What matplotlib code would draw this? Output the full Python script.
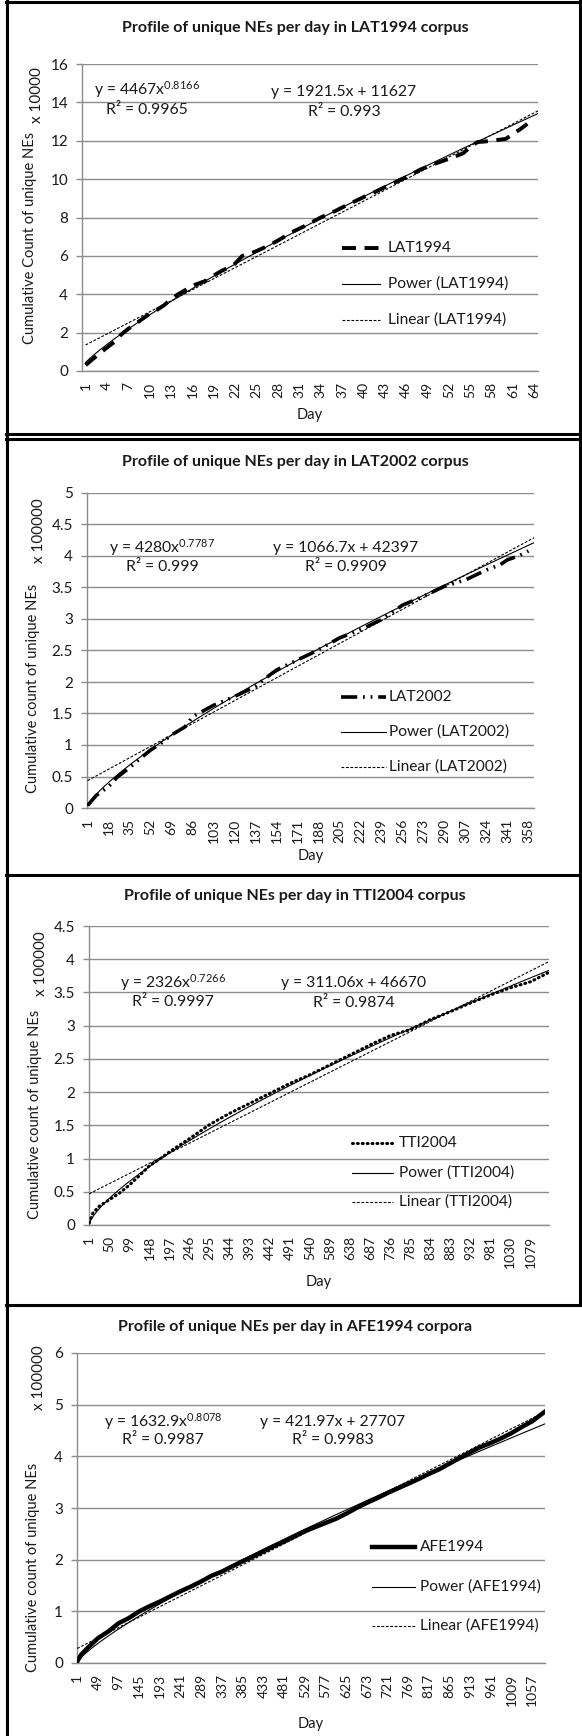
import matplotlib.pyplot as plt
import numpy as np
from matplotlib.lines import Line2D
from matplotlib.ticker import FuncFormatter

plt.rcParams['font.family'] = ['Lato', 'DejaVu Sans']
plt.rcParams['mathtext.fontset'] = 'custom'
plt.rcParams['mathtext.rm'] = 'Lato'
plt.rcParams['mathtext.default'] = 'regular'

W, H = 582, 1736

# ---- data ----
# LAT1994, cumulative unique NEs per day, x 10000
lat94_days = list(range(1, 64))
lat94_vals = [0.30, 0.62, 0.92, 1.22, 1.50, 1.90, 2.20, 2.45, 2.72, 2.98,
              3.18, 3.42, 3.75, 4.00, 4.22, 4.45, 4.58, 4.72, 4.98, 5.20,
              5.38, 5.60, 6.00, 6.10, 6.25, 6.42, 6.60, 6.80, 7.02, 7.24,
              7.42, 7.60, 7.80, 8.00, 8.17, 8.33, 8.52, 8.70, 8.88, 9.06,
              9.22, 9.40, 9.58, 9.76, 9.93, 10.10, 10.30, 10.50, 10.65, 10.80,
              10.93, 11.06, 11.20, 11.35, 11.67, 11.93, 11.96, 12.00, 12.05, 12.10,
              12.36, 12.60, 12.88]

# LAT2002, x 100000
lat02_days = [1, 8, 18, 25, 35, 42, 52, 60, 69, 80, 86, 103, 120, 137, 145, 154,
              171, 188, 205, 222, 239, 256, 273, 290, 307, 324, 335, 341, 350, 358]
lat02_vals = [0.04, 0.20, 0.34, 0.49, 0.64, 0.76, 0.92, 1.02, 1.16, 1.29, 1.45,
              1.63, 1.77, 1.93, 2.06, 2.19, 2.35, 2.51, 2.70, 2.83, 2.99, 3.22,
              3.36, 3.52, 3.62, 3.78, 3.86, 3.94, 4.00, 4.08]

# TTI2004, x 100000
tti04_days = [1, 10, 25, 50, 75, 99, 125, 148, 175, 197, 246, 295, 344, 393, 442,
              491, 540, 589, 638, 687, 736, 785, 834, 883, 932, 981, 1030, 1079, 1124]
tti04_vals = [0.03, 0.18, 0.28, 0.38, 0.48, 0.60, 0.75, 0.89, 1.00, 1.10, 1.30,
              1.51, 1.68, 1.83, 1.98, 2.13, 2.26, 2.41, 2.56, 2.71, 2.85, 2.94,
              3.09, 3.21, 3.34, 3.46, 3.57, 3.66, 3.80]

# AFE1994, x 100000
afe94_days = [1, 10, 25, 49, 73, 97, 121, 145, 169, 193, 217, 241, 265, 289, 313,
              337, 361, 385, 409, 433, 457, 481, 505, 529, 553, 577, 601, 625, 649,
              673, 697, 721, 745, 769, 793, 817, 841, 865, 889, 913, 937, 961, 985,
              1009, 1033, 1057, 1087]
afe94_vals = [0.03, 0.16, 0.29, 0.48, 0.61, 0.77, 0.87, 1.00, 1.10, 1.19, 1.29,
              1.39, 1.48, 1.58, 1.69, 1.77, 1.87, 1.97, 2.06, 2.16, 2.26, 2.35,
              2.45, 2.55, 2.63, 2.71, 2.79, 2.89, 3.00, 3.10, 3.19, 3.29, 3.38,
              3.47, 3.56, 3.66, 3.75, 3.86, 3.97, 4.08, 4.18, 4.26, 4.35, 4.45,
              4.57, 4.68, 4.87]

# trendline coefficients as printed on the charts
power_a = [4467, 4280, 2326, 1632.9]
power_b = [0.8166, 0.7787, 0.7266, 0.8078]
power_r2 = ['0.9965', '0.999', '0.9997', '0.9987']
lin_m = [1921.5, 1066.7, 311.06, 421.97]
lin_c = [11627, 42397, 46670, 27707]
lin_r2 = ['0.993', '0.9909', '0.9874', '0.9983']

names = ['LAT1994', 'LAT2002', 'TTI2004', 'AFE1994']
titles = ['Profile of unique NEs per day in LAT1994 corpus',
          'Profile of unique NEs per day in LAT2002 corpus',
          'Profile of unique NEs per day in TTI2004 corpus',
          'Profile of unique NEs per day in AFE1994 corpora']
ylabels = ['Cumulative Count of unique NEs'] + ['Cumulative count of unique NEs'] * 3
scales = [10000, 100000, 100000, 100000]
n_days = [64, 362, 1124, 1086]
tick_steps = [3, 17, 49, 48]
ymaxes = [16, 5, 4.5, 6]
ysteps = [2, 0.5, 0.5, 1]

series = [(lat94_days, lat94_vals), (lat02_days, lat02_vals),
          (tti04_days, tti04_vals), (afe94_days, afe94_vals)]

# line styles of the data series
styles = [dict(lw=2.8, ls=(0, (3.6, 2.2)), dash_capstyle='butt'),
          dict(lw=2.6, ls=(0, (4.5, 1.6, 0.5, 1.6, 0.5, 1.6)), dash_capstyle='butt'),
          dict(lw=2.2, ls=(0, (0.3, 1.3)), dash_capstyle='round'),
          dict(lw=3.2, ls='-')]

# layout in pixels: axes (left, top, right, bottom), text anchors
axes_px = [(82, 64, 538, 371), (87, 493, 534, 808), (89, 926, 549, 1225), (77, 1353, 545, 1663)]
title_y = [28, 462, 896, 1327]
day_y = [415, 856, 1282, 1724]
ylab_xy = [(30, 238), (33, 688), (35, 1114), (33, 1567)]
mult_xy = [(37, 95), (39, 531), (41, 964), (39, 1378)]
peq_xy = [(147, 90, 110), (162, 548, 567), (173, 983, 1002), (163, 1422, 1440)]
leq_xy = [(344, 92, 112), (346, 548, 567), (354, 983, 1003), (333, 1422, 1440)]
leg = [(342, 38, 8, 248, 36), (341, 45, 3, 697, 35), (352, 41, 6, 1143, 29.5), (372, 43, 5, 1547, 39.5)]

fig = plt.figure(figsize=(W / 100, H / 100), dpi=100)


def fx(x):
    return x / W


def fy(y):
    return 1 - y / H


grid_c = '#8c8c8c'
txt_c = '#1a1a1a'

for i in range(4):
    l, t, r, b = axes_px[i]
    ax = fig.add_axes([fx(l), fy(b), (r - l) / W, (b - t) / H])
    days, vals = series[i]
    N = n_days[i]

    ax.plot(days, vals, color='black', **styles[i], zorder=3)

    xx = np.linspace(1, N + 0.5, 400)
    ax.plot(xx, power_a[i] * xx ** power_b[i] / scales[i], color='black', lw=0.8, zorder=4)
    ax.plot(xx, (lin_m[i] * xx + lin_c[i]) / scales[i], color='black', lw=0.8,
            ls=(0, (2.5, 1.5)), zorder=4)

    ax.set_xlim(0.5, N + 0.5)
    ax.set_ylim(0, ymaxes[i])
    ax.set_yticks(np.arange(0, ymaxes[i] + 1e-9, ysteps[i]))
    ax.yaxis.set_major_formatter(FuncFormatter(lambda v, p: '{:g}'.format(v)))
    ax.set_xticks(np.arange(1, N + 1, tick_steps[i]))
    ax.tick_params(axis='x', labelrotation=90, length=0, pad=8, labelsize=10, colors=txt_c)
    ax.tick_params(axis='y', length=4, width=1, color=grid_c, labelsize=11, pad=6,
                   labelcolor=txt_c)
    ax.grid(axis='y', color=grid_c, lw=1)
    ax.set_axisbelow(True)
    for s in ['top', 'right']:
        ax.spines[s].set_visible(False)
    for s in ['left', 'bottom']:
        ax.spines[s].set_color(grid_c)
        ax.spines[s].set_linewidth(1)

    fig.text(fx(295), fy(title_y[i]), titles[i], ha='center', va='center',
             fontsize=11.5, fontweight='bold', color=txt_c)
    fig.text(fx((l + r) / 2), fy(day_y[i]), 'Day', ha='center', va='center',
             fontsize=10.5, color=txt_c)
    fig.text(fx(ylab_xy[i][0]), fy(ylab_xy[i][1]), ylabels[i], rotation=90,
             ha='center', va='center', fontsize=10.5, color=txt_c)
    fig.text(fx(mult_xy[i][0]), fy(mult_xy[i][1]), 'x ' + str(scales[i]), rotation=90,
             ha='center', va='center', fontsize=11, color=txt_c)

    # trendline equations
    px_, py1, py2 = peq_xy[i]
    fig.text(fx(px_), fy(py1), 'y = {}x$^{{{}}}$'.format(power_a[i], power_b[i]),
             ha='center', va='center', fontsize=11.3, color=txt_c)
    fig.text(fx(px_), fy(py2), 'R² = ' + power_r2[i], ha='center', va='center',
             fontsize=11.3, color=txt_c)
    lx_, ly1, ly2 = leq_xy[i]
    fig.text(fx(lx_), fy(ly1), 'y = {}x + {}'.format(lin_m[i], lin_c[i]),
             ha='center', va='center', fontsize=11.3, color=txt_c)
    fig.text(fx(lx_), fy(ly2), 'R² = ' + lin_r2[i], ha='center', va='center',
             fontsize=11.3, color=txt_c)

    # legend
    hx, hl, gap, ly0, dy = leg[i]
    labels = [names[i], 'Power ({})'.format(names[i]), 'Linear ({})'.format(names[i])]
    lstyles = [styles[i], dict(lw=0.8, ls='-'), dict(lw=0.8, ls=(0, (2.5, 1.5)))]
    for k in range(3):
        yk = ly0 + k * dy
        fig.add_artist(Line2D([fx(hx), fx(hx + hl)], [fy(yk), fy(yk)], color='black',
                              transform=fig.transFigure, **lstyles[k]))
        fig.text(fx(hx + hl + gap), fy(yk), labels[k], ha='left', va='center',
                 fontsize=11.2, color=txt_c)

# panel frames
frame_kw = dict(color='black', lw=2.2, transform=fig.transFigure)
fig.add_artist(Line2D([fx(6.5), fx(6.5)], [0, 1], **frame_kw))
fig.add_artist(Line2D([fx(580), fx(580)], [fy(0), fy(1304)], **frame_kw))
for yb in [1.5, 434, 439, 875, 1304.5]:
    fig.add_artist(Line2D([fx(6), fx(582)], [fy(yb), fy(yb)], **frame_kw))

fig.savefig('out.png', dpi=100)
